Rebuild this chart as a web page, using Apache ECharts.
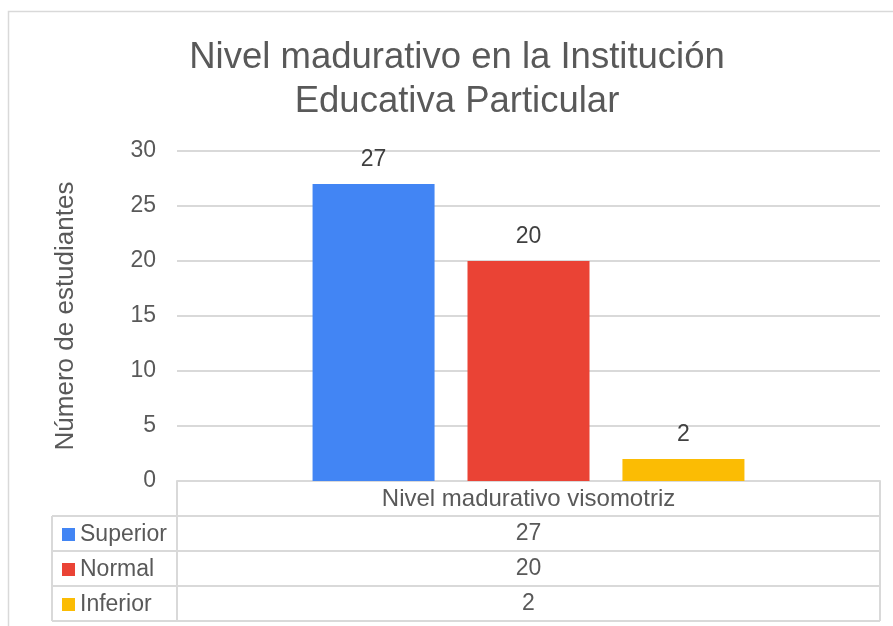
<!DOCTYPE html>
<html>
<head>
<meta charset="utf-8">
<script src="https://cdn.jsdelivr.net/npm/echarts@6/dist/echarts.min.js"></script>
<style>
html,body{margin:0;padding:0;background:#fff;}
#main{width:893px;height:626px;}
</style>
</head>
<body>
<div id="main"></div>
<script>
var categories = ['Nivel madurativo visomotriz'];
var seriesNames = ['Superior', 'Normal', 'Inferior'];
var superiorValues = [27];
var normalValues = [20];
var inferiorValues = [2];
var colors = ['#4285f4', '#ea4335', '#fbbc04'];
var yTicks = [0, 5, 10, 15, 20, 25, 30];

var font = 'Liberation Sans, Arial, sans-serif';
var textColor = '#595959';
var lineColor = '#d9d9d9';

// grid box
var gLeft = 177, gRight = 880, gTop = 151, gBottom = 481;
var rowH = 35, tableLeft = 52;

var myChart = echarts.init(document.getElementById('main'));

var allValues = [superiorValues, normalValues, inferiorValues];
var series = seriesNames.map(function (name, i) {
    return {
        name: name,
        type: 'bar',
        data: allValues[i],
        barWidth: 122,
        barGap: '27%',
        itemStyle: { color: colors[i] },
        label: {
            show: true,
            position: 'top',
            distance: 13,
            color: '#404040',
            fontSize: 23,
            fontFamily: font
        }
    };
});

// data table drawn below the plot
var graphic = [
    { type: 'rect', shape: { x: 8.5, y: 11.5, width: 900, height: 640 }, style: { fill: null, stroke: lineColor, lineWidth: 1.5 }, silent: true }
];
function hline(x1, x2, y) {
    graphic.push({ type: 'line', shape: { x1: x1, y1: y, x2: x2, y2: y }, style: { stroke: lineColor, lineWidth: 2 } });
}
function vline(x, y1, y2) {
    graphic.push({ type: 'line', shape: { x1: x, y1: y1, x2: x, y2: y2 }, style: { stroke: lineColor, lineWidth: 2 } });
}
vline(gLeft, gBottom, gBottom + rowH * 4);
vline(gRight, gBottom, gBottom + rowH * 4);
vline(tableLeft, gBottom + rowH, gBottom + rowH * 4);
for (var r = 1; r <= 4; r++) hline(tableLeft, gRight, gBottom + rowH * r);
seriesNames.forEach(function (name, i) {
    graphic.push({
        type: 'text',
        x: (gLeft + gRight) / 2,
        y: gBottom + rowH * (i + 1) + rowH / 2,
        style: {
            text: String(allValues[i][0]),
            fill: textColor,
            font: '23px ' + font,
            align: 'center',
            verticalAlign: 'middle'
        }
    });
});

var option = {
    animation: false,
    title: {
        text: 'Nivel madurativo en la Institución\nEducativa Particular',
        left: 452,
        textAlign: 'center',
        top: 31,
        textStyle: {
            color: textColor,
            fontSize: 36.5,
            fontWeight: 'normal',
            fontFamily: font,
            lineHeight: 44
        }
    },
    legend: {
        orient: 'vertical',
        left: 62,
        top: gBottom + rowH + 7,
        padding: 0,
        itemWidth: 13,
        itemHeight: 13,
        itemGap: 12,
        icon: 'rect',
        data: seriesNames,
        textStyle: { color: textColor, fontSize: 23, lineHeight: 23, fontFamily: font }
    },
    grid: {
        left: gLeft,
        right: 893 - gRight,
        top: gTop,
        bottom: 626 - gBottom
    },
    xAxis: [
        {
            type: 'category',
            data: categories,
            axisLine: { show: true, lineStyle: { color: lineColor, width: 2 } },
            axisTick: { show: false },
            axisLabel: { color: textColor, fontSize: 24, fontFamily: font, margin: 6 }
        }
    ],
    yAxis: [
        {
            type: 'value',
            min: yTicks[0],
            max: yTicks[yTicks.length - 1],
            interval: 5,
            name: 'Número de estudiantes',
            nameLocation: 'middle',
            nameGap: 98,
            nameTextStyle: { color: textColor, fontSize: 26, fontFamily: font },
            axisLine: { show: false },
            axisTick: { show: false },
            axisLabel: { color: textColor, fontSize: 23, fontFamily: font, margin: 21 },
            splitLine: { lineStyle: { color: lineColor, width: 2 } }
        }
    ],
    graphic: graphic,
    series: series
};

myChart.setOption(option);
</script>
</body>
</html>
